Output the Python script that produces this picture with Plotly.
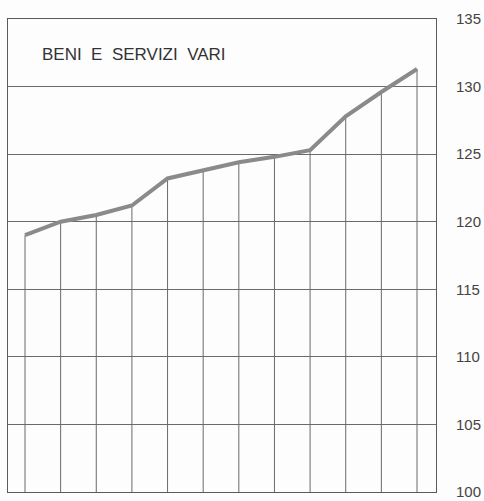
import plotly.graph_objects as go

# Index values for "Beni e servizi vari", one per period
periods = list(range(1, 13))
values = [119.0, 120.0, 120.5, 121.2, 123.2, 123.8, 124.4, 124.8, 125.3, 127.8, 129.6, 131.3]
y_ticks = [100, 105, 110, 115, 120, 125, 130, 135]
title_text = "BENI\u00a0 E\u00a0 SERVIZI\u00a0 VARI"
base_value = 100

# Drop lines from each value down to the base of the scale
drop_x, drop_y = [], []
for p, v in zip(periods, values):
    drop_x += [p, p, None]
    drop_y += [base_value, v, None]

fig = go.Figure()
fig.add_trace(go.Scatter(
    x=drop_x, y=drop_y, mode="lines",
    line=dict(color="#6a6a6a", width=1), hoverinfo="skip", showlegend=False,
))
fig.add_trace(go.Scatter(
    x=periods, y=values, mode="lines",
    line=dict(color="#8a8a8a", width=4), showlegend=False,
))

fig.add_annotation(
    text=title_text, xref="paper", yref="paper", x=0.075, y=0.925,
    xanchor="left", yanchor="middle", showarrow=False,
    font=dict(family="Liberation Sans, Arial, sans-serif", size=17, color="#333333"),
)

fig.update_layout(
    width=484, height=501,
    margin=dict(l=8, r=48, t=19, b=9),
    paper_bgcolor="#fdfdfd", plot_bgcolor="#fdfdfd",
    xaxis=dict(
        range=[0.523, 12.533], showgrid=False, zeroline=False,
        showticklabels=False, ticks="", automargin=False,
        showline=True, linecolor="#5a5a5a", linewidth=1, mirror=True,
    ),
    yaxis=dict(
        range=[100, 135], side="right", tickvals=y_ticks,
        ticktext=[str(t) for t in y_ticks], automargin=False,
        showgrid=True, gridcolor="#6a6a6a", gridwidth=1, zeroline=False,
        showline=True, linecolor="#5a5a5a", linewidth=1, mirror=True,
        ticks="", ticklabelstandoff=16,
        tickfont=dict(family="Liberation Sans, Arial, sans-serif", size=15, color="#444444"),
    ),
)

fig.write_html("out.html")
